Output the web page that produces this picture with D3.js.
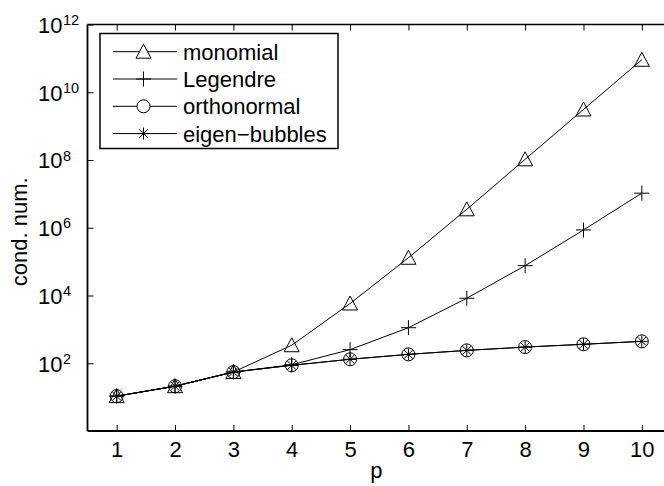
<!DOCTYPE html>
<html>
<head>
<meta charset="utf-8">
<script src="https://cdn.jsdelivr.net/npm/d3@7"></script>
<style>
  body { margin: 0; background: #fff; }
  svg { display: block; font-family: "Liberation Sans", Arial, sans-serif; }
</style>
</head>
<body>
<svg id="chart"></svg>
<script>
// values
const p = [1, 2, 3, 4, 5, 6, 7, 8, 9, 10];
const monomial = [10.7, 21, 55, 340, 5800, 1.3e5, 3.5e6, 1.05e8, 3.1e9, 9.1e10];
const legendre = [10.7, 21, 55, 90, 252, 1120, 8300, 7.6e4, 8.6e5, 1.05e7];
const orthonormal = [10.7, 21, 55, 87, 131, 183, 240, 300, 363, 443];
const eigenBubbles = [10.7, 21, 55, 87, 131, 183, 240, 300, 363, 443];
const seriesNames = ["monomial", "Legendre", "orthonormal", "eigen\u2212bubbles"];
const seriesMarkers = ["triangle", "plus", "circle", "asterisk"];
const xTicks = [1, 2, 3, 4, 5, 6, 7, 8, 9, 10];
const yTickExps = [2, 4, 6, 8, 10, 12];

const width = 664;
const height = 486;
const plot = { left: 87.5, top: 24.5, right: 671, bottom: 431 };
const fontSize = 22;

const svg = d3.select("#chart").attr("width", width).attr("height", height);

const x = d3.scaleLinear().domain([0.5, 10.5]).range([plot.left, plot.right]);
const y = d3.scaleLog().domain([1, 1e12]).range([plot.bottom, plot.top]);

function markerPath(type) {
  const path = d3.path();
  if (type === "triangle") {
    path.moveTo(0, -7.5); path.lineTo(7.5, 6.5); path.lineTo(-7.5, 6.5); path.closePath();
  } else if (type === "plus") {
    path.moveTo(-7.5, 0); path.lineTo(7.5, 0); path.moveTo(0, -7.5); path.lineTo(0, 7.5);
  } else if (type === "circle") {
    path.moveTo(6.5, 0); path.arc(0, 0, 6.5, 0, 2 * Math.PI);
  } else {
    const r = 6, d = 4.3;
    path.moveTo(-r, 0); path.lineTo(r, 0); path.moveTo(0, -r); path.lineTo(0, r);
    path.moveTo(-d, -d); path.lineTo(d, d); path.moveTo(-d, d); path.lineTo(d, -d);
  }
  return path.toString();
}

// axes
const xAxisBottom = d3.axisBottom(x).tickValues(xTicks).tickSize(-6).tickPadding(10).tickFormat(d3.format("d"));
const xAxisTop = d3.axisTop(x).tickValues(xTicks).tickSize(-6).tickFormat("");
const yAxis = d3.axisLeft(y).tickValues(yTickExps.map(e => Math.pow(10, e))).tickSize(-6).tickFormat("");

const gx = svg.append("g").attr("transform", `translate(0,${plot.bottom})`).call(xAxisBottom);
gx.selectAll("text").attr("font-size", fontSize).attr("fill", "#000").attr("font-family", "Liberation Sans, Arial, sans-serif");
svg.append("g").attr("transform", `translate(0,${plot.top})`).call(xAxisTop);
const gy = svg.append("g").attr("transform", `translate(${plot.left},0)`).call(yAxis);

svg.selectAll(".domain").remove();
svg.selectAll(".tick line").attr("stroke", "#000").attr("stroke-width", 1);

// y tick labels as 10^n
const yLabels = gy.selectAll(".tick").append("g");
yLabels.append("text")
  .attr("x", -25).attr("dy", "0.36em")
  .attr("text-anchor", "end")
  .attr("font-size", fontSize)
  .attr("fill", "#000")
  .text("10");
yLabels.append("text")
  .attr("x", -24.5).attr("y", 0)
  .attr("text-anchor", "start")
  .attr("font-size", 14.5)
  .attr("fill", "#000")
  .text((d, i) => yTickExps[i]);

// spines
svg.append("line").attr("x1", plot.left).attr("x2", plot.right).attr("y1", plot.bottom).attr("y2", plot.bottom)
  .attr("stroke", "#000").attr("stroke-width", 2);
svg.append("line").attr("x1", plot.left).attr("x2", plot.right).attr("y1", plot.top).attr("y2", plot.top)
  .attr("stroke", "#000").attr("stroke-width", 1.5);
svg.append("line").attr("x1", plot.left).attr("x2", plot.left).attr("y1", plot.top).attr("y2", plot.bottom)
  .attr("stroke", "#000").attr("stroke-width", 1.8);

// axis labels
svg.append("text").attr("x", x(5.5) - 3).attr("y", 478).attr("text-anchor", "middle")
  .attr("font-size", fontSize).text("p");
svg.append("text").attr("transform", `translate(27,${(plot.top + plot.bottom) / 2 + 4}) rotate(-90)`)
  .attr("text-anchor", "middle").attr("font-size", fontSize).text("cond. num.");

// series
const seriesValues = [monomial, legendre, orthonormal, eigenBubbles];
const line = d3.line().x(d => x(d[0])).y(d => y(d[1]));

seriesValues.forEach((vals, s) => {
  const pts = p.map((v, i) => [v, vals[i]]);
  svg.append("path").datum(pts).attr("d", line)
    .attr("fill", "none").attr("stroke", "#000").attr("stroke-width", 1);
  svg.append("g").selectAll("path").data(pts).join("path")
    .attr("transform", d => `translate(${x(d[0])},${y(d[1])})`)
    .attr("d", markerPath(seriesMarkers[s]))
    .attr("fill", "none").attr("stroke", "#000").attr("stroke-width", 1);
});

// legend
const legend = svg.append("g");
legend.append("rect").attr("x", 100).attr("y", 33.5).attr("width", 238).attr("height", 115)
  .attr("fill", "#fff").attr("stroke", "#000").attr("stroke-width", 1.5);
const rows = legend.selectAll("g.row").data(seriesNames).join("g")
  .attr("class", "row")
  .attr("transform", (d, i) => `translate(0,${51.7 + i * 27.3})`);
rows.append("line").attr("x1", 113).attr("x2", 177).attr("stroke", "#000").attr("stroke-width", 1);
rows.append("path").attr("transform", "translate(143.5,0)")
  .attr("d", (d, i) => markerPath(seriesMarkers[i]))
  .attr("fill", "#fff").attr("stroke", "#000").attr("stroke-width", 1);
rows.append("text").attr("x", 183).attr("dy", "0.36em").attr("font-size", fontSize).text(d => d);
</script>
</body>
</html>
